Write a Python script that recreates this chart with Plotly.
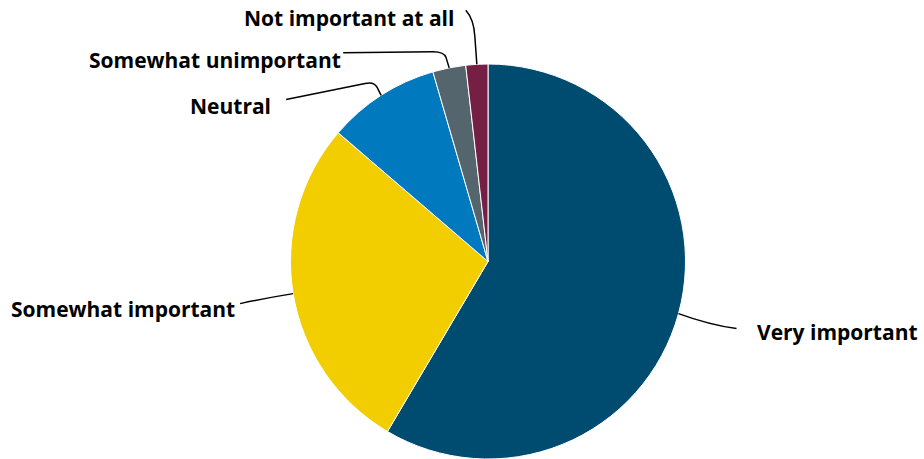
import math
import plotly.graph_objects as go

labels = ["Very important", "Somewhat important", "Neutral", "Somewhat unimportant", "Not important at all"]
values = [58.5, 27.8, 9.2, 2.7, 1.8]
colors = ["#004c70", "#f2cd00", "#0079be", "#55656d", "#751f45"]

# leader line shape (pixel offsets from slice edge point) and label anchor
leaders = [
    [("M", 0, 0), ("Q", 30, 11, 58, 15)],
    [("M", 0, 0), ("Q", -25, 4, -53, 10)],
    [("M", 0, 0), ("L", -4, -8), ("Q", -7, -14, -16, -12), ("L", -95, 4)],
    [("M", 0, 0), ("L", -3, -10), ("Q", -5, -16, -16, -16), ("L", -106, -15)],
    [("M", 0, 0), ("L", -2, -28), ("Q", -3, -45, -11, -54)],
]
label_off = [(76, 18, "left"), (-56, 15, "right"), (-108, 11, "right"),
             (-106, -8, "right"), (-21, -46, "right")]

W, H = 924, 459
mt, mb, ml, mr = 64, 0, 0, 0
plot_h = H - mt
cx_px = 488
r = 197.5
dom_x = [(cx_px - r) / W, (cx_px + r) / W]
dom_y = [max(0.0, 1 - (2 * r) / plot_h), 1]


def to_paper(px, py):
    return px / W, 1 - py / plot_h


fig = go.Figure(go.Pie(
    labels=labels, values=values, sort=False, direction="clockwise", rotation=0,
    marker=dict(colors=colors, line=dict(color="white", width=1)),
    textinfo="none", hoverinfo="label+percent", showlegend=False,
    domain=dict(x=dom_x, y=dom_y),
))

total = sum(values)
cum = 0
annotations, shapes = [], []
for lab, v, path, (tx, ty, anc) in zip(labels, values, leaders, label_off):
    mid = (cum + v / 2) / total * 2 * math.pi
    cum += v
    ex = cx_px + r * math.sin(mid)
    ey = r - r * math.cos(mid)
    d = ""
    for seg in path:
        cmd, nums = seg[0], seg[1:]
        pts = []
        for i in range(0, len(nums), 2):
            x, y = to_paper(ex + nums[i], ey + nums[i + 1])
            pts.append(f"{x:.5f},{y:.5f}")
        d += f"{cmd} " + " ".join(pts) + " "
    shapes.append(dict(type="path", path=d.strip(), xref="paper", yref="paper",
                       line=dict(color="black", width=1.5)))
    x, y = to_paper(ex + tx, ey + ty)
    annotations.append(dict(
        x=x, y=y, xref="paper", yref="paper", xanchor=anc, yanchor="middle",
        text=lab, showarrow=False,
        font=dict(family="Open Sans", size=21, color="black", weight="bold"),
    ))

fig.update_layout(
    width=W, height=H, margin=dict(l=ml, r=mr, t=mt, b=mb),
    paper_bgcolor="white", plot_bgcolor="white",
    annotations=annotations, shapes=shapes,
)
fig.write_html("out.html", config={"displayModeBar": False},
               post_script="document.body.style.margin='0';")
